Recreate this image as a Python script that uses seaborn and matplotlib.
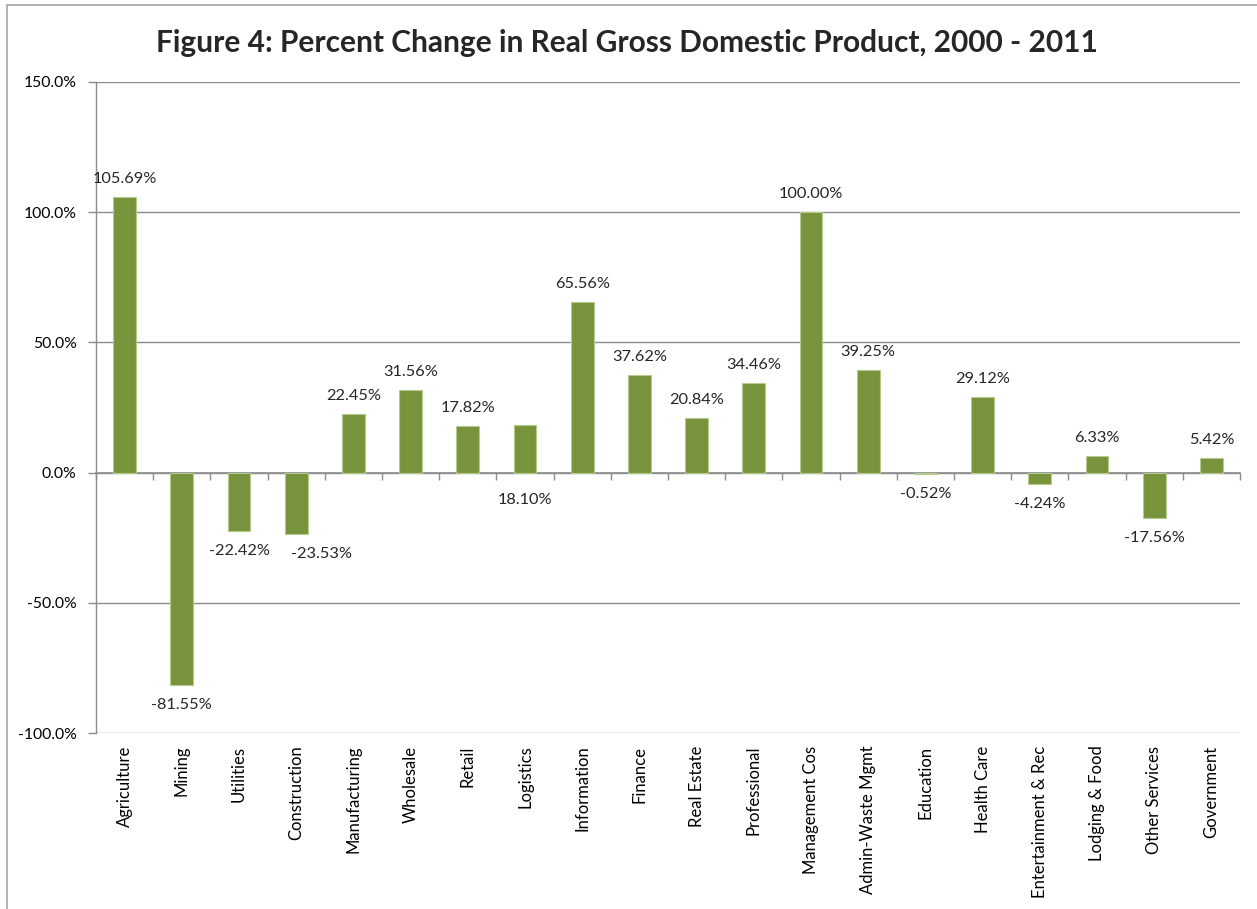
import matplotlib
matplotlib.use("Agg")
import matplotlib.pyplot as plt
import seaborn as sns
import pandas as pd
from matplotlib.patches import Rectangle
from matplotlib.ticker import FuncFormatter, FixedLocator

categories = ["Agriculture", "Mining", "Utilities", "Construction", "Manufacturing",
              "Wholesale", "Retail", "Logistics", "Information", "Finance",
              "Real Estate", "Professional", "Management Cos", "Admin-Waste Mgmt",
              "Education", "Health Care", "Entertainment & Rec", "Lodging & Food",
              "Other Services", "Government"]
pct_change = [105.69, -81.55, -22.42, -23.53, 22.45, 31.56, 17.82, 18.10, 65.56, 37.62,
              20.84, 34.46, 100.00, 39.25, -0.52, 29.12, -4.24, 6.33, -17.56, 5.42]

y_ticks = [-100, -50, 0, 50, 100, 150]

sns.set_theme(style="white")
plt.rcParams["font.family"] = ["Lato", "DejaVu Sans"]

df = pd.DataFrame({"category": categories, "value": pct_change})

fig = plt.figure(figsize=(12.57, 9.09), dpi=100)
ax = fig.add_axes([0.0764, 0.1936, 0.9101, 0.7162])

bar_color = "#77933C"
grid_color = "#8C8C8C"

sns.barplot(data=df, x="category", y="value", color=bar_color, width=0.4,
            saturation=1, edgecolor="#B5CB8E", linewidth=0.8, ax=ax, zorder=3)

ax.set_ylim(-100, 150)
ax.set_xlim(-0.5, len(categories) - 0.5)
ax.yaxis.set_major_locator(FixedLocator(y_ticks))
ax.yaxis.set_major_formatter(FuncFormatter(lambda v, p: f"{v:.1f}%"))
ax.grid(axis="y", color=grid_color, lw=1, zorder=0)
ax.grid(axis="x", visible=False)
ax.set_xlabel("")
ax.set_ylabel("")

for s in ["top", "right", "bottom"]:
    ax.spines[s].set_visible(False)
ax.spines["left"].set_color(grid_color)
ax.spines["left"].set_linewidth(1)

ax.tick_params(axis="y", which="major", left=True, length=6, width=1, color=grid_color,
               labelsize=11.3, labelcolor="black", pad=8)
ax.tick_params(axis="x", which="major", bottom=False, length=0, labelsize=12,
               labelcolor="black", pad=9)
plt.setp(ax.get_xticklabels(), rotation=90, ha="center", va="top")

# category axis crossing at zero, with boundary tick marks
zero_frac = (0 - y_ticks[0]) / (y_ticks[-1] - y_ticks[0])
sec = ax.secondary_xaxis(zero_frac)
sec.set_xticks([i - 0.5 for i in range(len(categories) + 1)])
sec.tick_params(axis="x", direction="out", length=5, width=1, color=grid_color,
                labelbottom=False, labeltop=False, bottom=True, top=False)
sec.spines["bottom"].set_color(grid_color)
sec.spines["bottom"].set_linewidth(1.2)
for s in ["top", "left", "right"]:
    sec.spines[s].set_visible(False)

# value labels: Logistics label sits under the axis, Construction label nudged right
label_below_axis = {"Logistics"}
label_dx = {"Construction": 18}
for i, (cat, v) in enumerate(zip(categories, pct_change)):
    dx = label_dx.get(cat, 0)
    if cat in label_below_axis:
        anchor, dy = 0, -20
    elif v >= 0:
        anchor, dy = v, 13
    else:
        anchor, dy = v, -14.5
    ax.annotate(f"{v:.2f}%", xy=(i, anchor), xytext=(dx, dy), textcoords="offset points",
                ha="center", va="center", fontsize=11.8, zorder=5)

fig.text(0.499, 0.953, "Figure 4: Percent Change in Real Gross Domestic Product, 2000 - 2011",
         ha="center", va="center", fontsize=21.5, fontweight="bold")

# chart area border
fig.patches.append(Rectangle((7 / 1257, -0.1), 1.2, 1 - 5 / 909 + 0.1,
                             transform=fig.transFigure, fill=False,
                             edgecolor="#A6A6A6", lw=1.2))

fig.savefig("out.png", dpi=100)
